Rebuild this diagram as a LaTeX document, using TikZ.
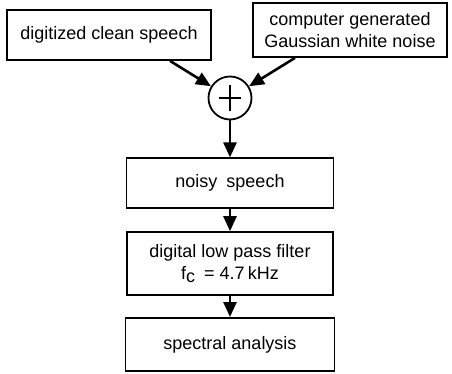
\documentclass[tikz,border=0pt]{standalone}
\usepackage{fontspec}
\setmainfont{Liberation Sans}
\usetikzlibrary{arrows.meta,positioning}
\tikzset{
    auto,node distance = 1 cm and 1 cm,
    block/.style = {rectangle, draw, line width=1.8pt, align=center, inner sep=2pt, font=\fontsize{18}{22}\selectfont},
    summer/.style = {circle, draw, line width=1.8pt, minimum size=43pt, inner sep=0pt},
    flow/.style = {-{Triangle[length=15pt,width=13pt]}, line width=2.6pt}
}

\begin{document}
\begin{tikzpicture}[x=1pt,y=-1pt]
    \useasboundingbox (0,0) rectangle (452,374);
    % Signal sources
    \node[block,minimum width=204pt,minimum height=50pt] (speech) at (109,35) {digitized clean speech};
    \node[block,minimum width=194pt,minimum height=54pt] (noise) at (350,30) {computer generated\\Gaussian white noise};
    % Adder
    \node[summer] (sum) at (230,98) {};
    \draw[line width=1.6pt] ([xshift=-11pt]sum.center) -- ([xshift=11pt]sum.center)
        ([yshift=-13pt]sum.center) -- ([yshift=13pt]sum.center);
    % Processing chain
    \node[block,minimum width=207pt,minimum height=50pt] (noisy) [below=37pt of sum] {noisy\enspace speech};
    \node[block,minimum width=206pt,minimum height=63pt] (filter) [below=22pt of noisy] {digital low pass filter\\f\raisebox{-3pt}{c}\enspace = 4.7\,kHz};
    \node[block,minimum width=209pt,minimum height=53pt] (analysis) [below=21pt of filter] {spectral analysis};
    % Draw the signal flow
    \draw[flow] ([xshift=61pt]speech.south) -- (sum);
    \draw[flow] ([xshift=-55pt]noise.south) -- (sum);
    \draw[flow] (sum) -- (noisy);
    \draw[flow] (noisy) -- (filter);
    \draw[flow] (filter) -- (analysis);
\end{tikzpicture}
\end{document}
